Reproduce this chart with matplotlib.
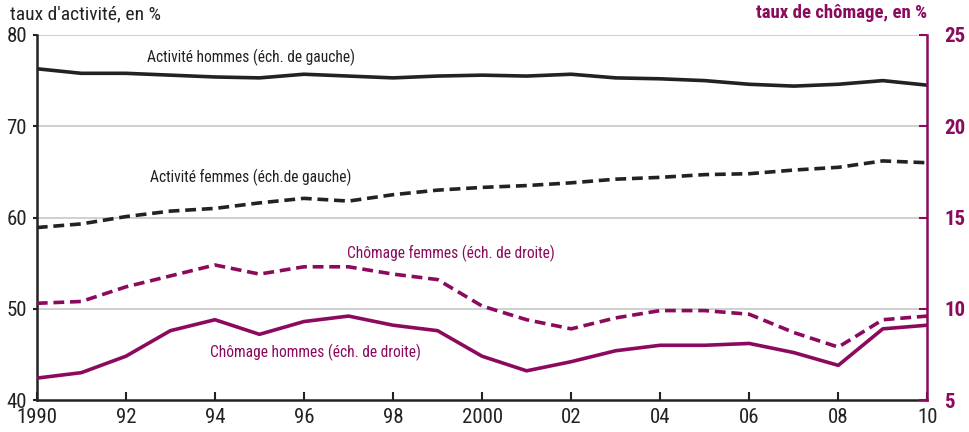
import numpy as np
import matplotlib
matplotlib.use("Agg")
import matplotlib.pyplot as plt

plt.rcParams['font.family'] = ['Roboto Condensed', 'Archivo Narrow', 'DejaVu Sans']

# donnees
annees = list(range(1990, 2011))
act_hommes = [76.3, 75.8, 75.8, 75.6, 75.4, 75.3, 75.7, 75.5, 75.3, 75.5, 75.6,
              75.5, 75.7, 75.3, 75.2, 75.0, 74.6, 74.4, 74.6, 75.0, 74.5]
act_femmes = [58.9, 59.3, 60.1, 60.7, 61.0, 61.6, 62.1, 61.8, 62.5, 63.0, 63.3,
              63.5, 63.8, 64.2, 64.4, 64.7, 64.8, 65.2, 65.5, 66.2, 66.0]
chom_femmes = [10.3, 10.4, 11.2, 11.8, 12.4, 11.9, 12.3, 12.3, 11.9, 11.6, 10.15,
               9.4, 8.9, 9.5, 9.9, 9.9, 9.7, 8.7, 7.9, 9.4, 9.6]
chom_hommes = [6.2, 6.5, 7.4, 8.8, 9.4, 8.6, 9.3, 9.6, 9.1, 8.8, 7.4,
               6.6, 7.1, 7.7, 8.0, 8.0, 8.1, 7.6, 6.9, 8.9, 9.1]
xticks = [1990, 1992, 1994, 1996, 1998, 2000, 2002, 2004, 2006, 2008, 2010]
xlabels = ['1990', '92', '94', '96', '98', '2000', '02', '04', '06', '08', '10']

violet = '#8c0a5e'
noir = '#222222'

fig = plt.figure(figsize=(9.69, 4.32), dpi=100)
ax = fig.add_axes([0.038, 0.074, 0.919, 0.845])
ax2 = ax.twinx()

ax.plot(annees, act_hommes, color=noir, lw=2.6)
ax.plot(annees, act_femmes, color=noir, lw=2.6, ls=(0, (3, 1.6)))
ax2.plot(annees, chom_femmes, color=violet, lw=2.6, ls=(0, (3, 1.6)))
ax2.plot(annees, chom_hommes, color=violet, lw=2.6)

ax.set_xlim(1990, 2010)
ax.set_ylim(40, 80)
ax2.set_ylim(5, 25)
ax.set_yticks([40, 50, 60, 70, 80])
ax2.set_yticks([5, 10, 15, 20, 25])
ax.set_xticks(xticks)
ax.set_xticklabels(xlabels)

for y in [50, 60, 70, 80]:
    ax.axhline(y, color='#c8c8c8', lw=1.2, zorder=0)

for a in (ax, ax2):
    a.spines['top'].set_visible(False)
ax.spines['right'].set_visible(False)
ax2.spines['left'].set_visible(False)
ax2.spines['bottom'].set_visible(False)
ax.spines['left'].set_linewidth(1.8)
ax.spines['bottom'].set_linewidth(1.8)
ax.spines['left'].set_color(noir)
ax.spines['bottom'].set_color(noir)
ax2.spines['right'].set_color(violet)
ax2.spines['right'].set_linewidth(1.8)

ax.tick_params(axis='x', direction='in', length=6, width=1.5, labelsize=15, pad=6, colors=noir)
ax.tick_params(axis='y', direction='out', length=3, width=1.5, labelsize=15, pad=4, colors=noir)
ax2.tick_params(axis='y', direction='in', length=6, width=1.5, labelsize=15, pad=12,
                colors=violet)
for lab in ax2.get_yticklabels():
    lab.set_fontweight('bold')

ax.text(1990 - 0.6, 82.3, "taux d'activité, en %", fontsize=14, color=noir, ha='left', va='center')
ax2.text(2010, 26.2, "taux de chômage, en %", fontsize=13.5, color=violet, fontweight='bold',
         ha='right', va='center')

ax.text(1994.8, 77.6, "Activité hommes (éch. de gauche)", fontsize=11.2, color=noir, ha='center', va='center')
ax.text(1994.8, 64.4, "Activité femmes (éch.de gauche)", fontsize=11.2, color=noir, ha='center', va='center')
ax2.text(1999.3, 13.05, "Chômage femmes (éch. de droite)", fontsize=11.2, color=violet, ha='center', va='center')
ax2.text(1996.25, 7.6, "Chômage hommes (éch. de droite)", fontsize=11.2, color=violet, ha='center', va='center')

fig.savefig('out.png', dpi=100)
